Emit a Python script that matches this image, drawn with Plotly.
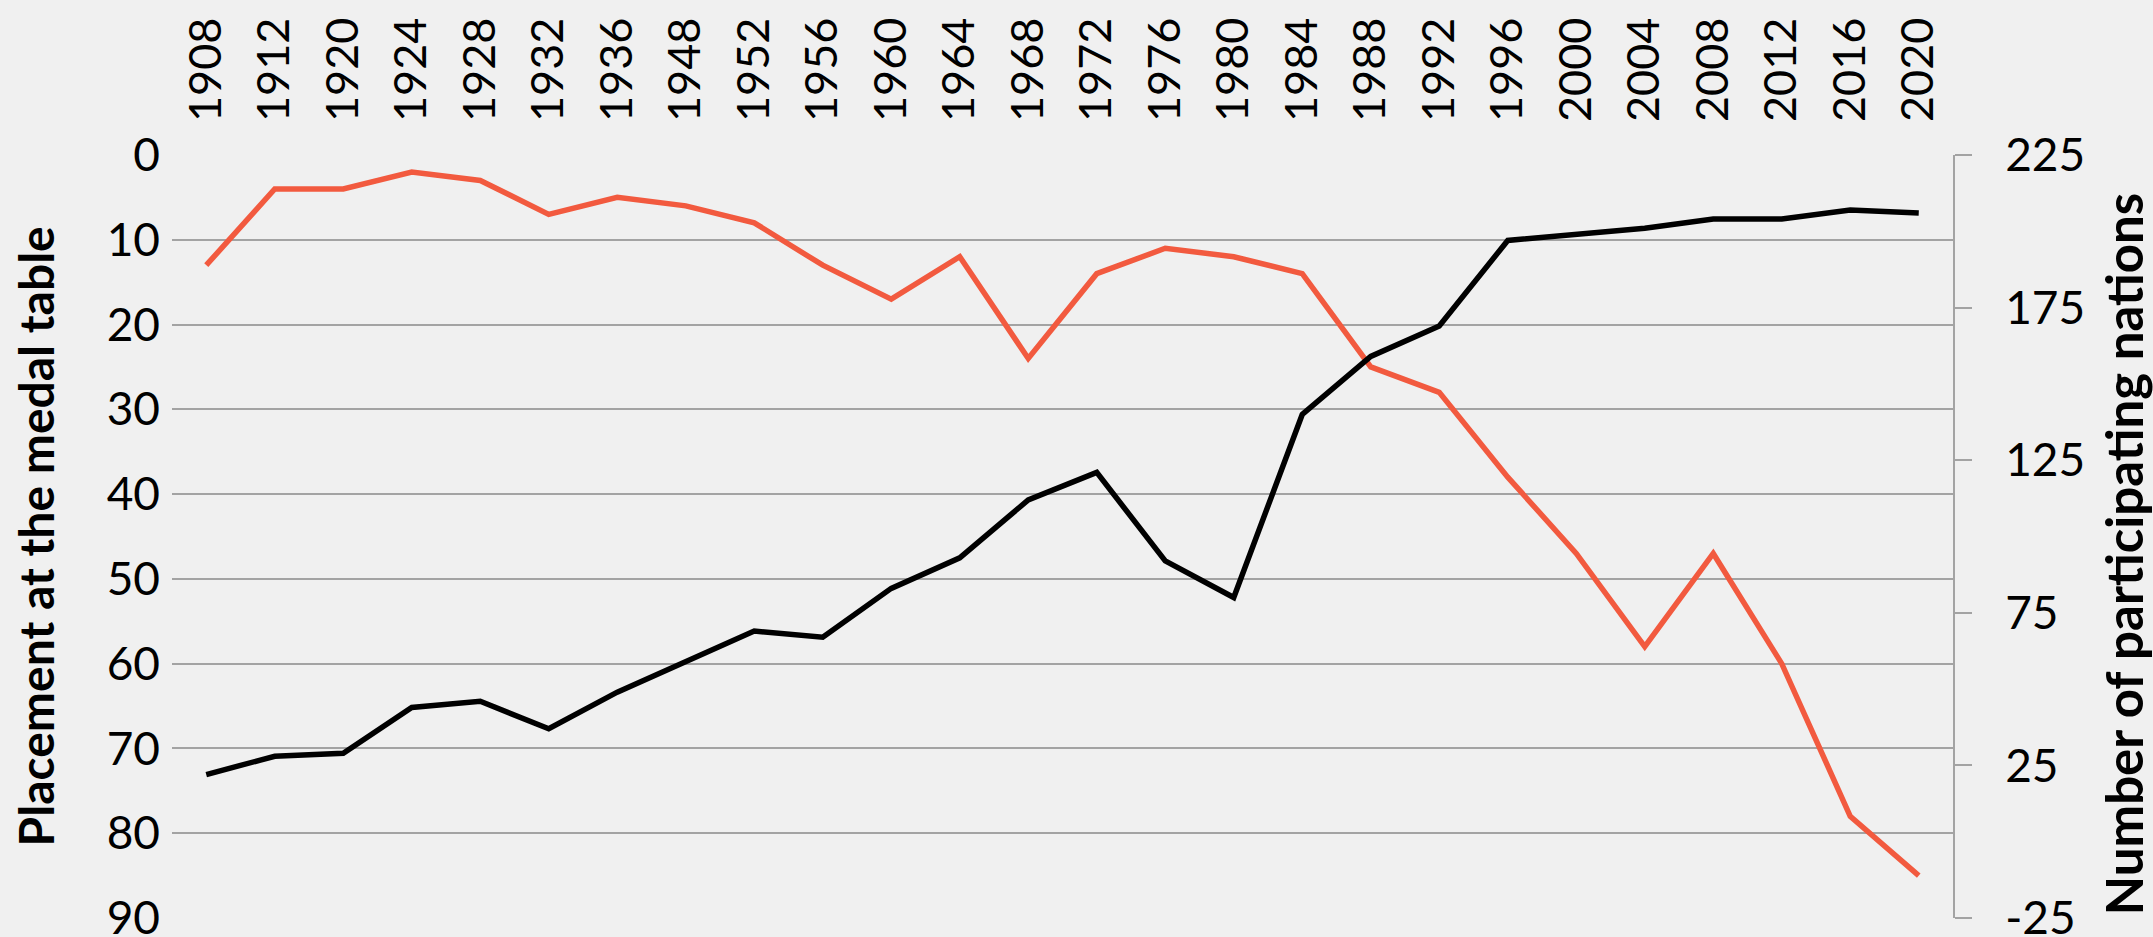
import plotly.graph_objects as go

years = ["1908", "1912", "1920", "1924", "1928", "1932", "1936", "1948", "1952", "1956",
         "1960", "1964", "1968", "1972", "1976", "1980", "1984", "1988", "1992", "1996",
         "2000", "2004", "2008", "2012", "2016", "2020"]
placement = [13, 4, 4, 2, 3, 7, 5, 6, 8, 13, 17, 12, 24, 14, 11, 12, 14, 25, 28, 38,
             47, 58, 47, 60, 78, 85]
nations = [22, 28, 29, 44, 46, 37, 49, 59, 69, 67, 83, 93, 112, 121, 92, 80, 140, 159,
           169, 197, 199, 201, 204, 204, 207, 206]

left_ticks = [0, 10, 20, 30, 40, 50, 60, 70, 80, 90]
right_ticks = [-25, 25, 75, 125, 175, 225]
right_labels = ["-25", "25", "75", "125", "175", "225"]

left_title = "Placement at the medal table"
right_title = "Number of participating nations"

RED = "#F25A3F"
GRID = "#a3a3a3"
BG = "#f0f0f0"
FONT = "Lato"

fig = go.Figure()
fig.add_trace(go.Scatter(x=years, y=placement, mode="lines", yaxis="y",
                         line=dict(color=RED, width=5.5), name="Placement"))
fig.add_trace(go.Scatter(x=years, y=nations, mode="lines", yaxis="y2",
                         line=dict(color="black", width=5.5), name="Nations"))

fig.update_layout(
    width=2153, height=937,
    paper_bgcolor=BG, plot_bgcolor=BG,
    margin=dict(l=172, r=200, t=155, b=19),
    showlegend=False,
    font=dict(family=FONT, size=45, color="black"),
    xaxis=dict(
        type="category", side="top", tickangle=-90,
        range=[-0.5, len(years) - 0.5], automargin=False,
        showgrid=False, zeroline=False, showline=False, ticks="",
        ticklabelstandoff=32, ticklabeloverflow="allow",
        tickfont=dict(family=FONT, size=45, color="black"),
    ),
    yaxis=dict(
        range=[90, 0], tickvals=left_ticks, automargin=False,
        showgrid=True, gridcolor=GRID, gridwidth=2,
        zeroline=False, showline=False, ticks="",
        ticklabelstandoff=11, ticklabeloverflow="allow",
        tickfont=dict(family=FONT, size=46, color="black"),
    ),
    yaxis2=dict(
        range=[-25, 225], tickvals=right_ticks, ticktext=right_labels,
        overlaying="y", side="right", automargin=False,
        showgrid=False, zeroline=False,
        showline=True, linecolor=GRID, linewidth=2,
        ticks="outside", ticklen=17, tickwidth=2, tickcolor=GRID,
        ticklabelstandoff=24, ticklabeloverflow="allow",
        tickfont=dict(family=FONT, size=46, color="black"),
    ),
    annotations=[
        dict(text="<b>" + left_title + "</b>", textangle=-90,
             xref="paper", yref="paper", x=-0.0764, y=0.5,
             xanchor="center", yanchor="middle", showarrow=False,
             font=dict(family=FONT, size=48, color="black")),
        dict(text="<b>" + right_title + "</b>", textangle=-90,
             xref="paper", yref="paper", x=1.0955, y=0.477,
             xanchor="center", yanchor="middle", showarrow=False,
             font=dict(family=FONT, size=51, color="black")),
    ],
)

fig.write_html("out.html", config={"displayModeBar": False},
               post_script="document.body.style.margin='0';"
                           "document.body.style.background='" + BG + "';")
